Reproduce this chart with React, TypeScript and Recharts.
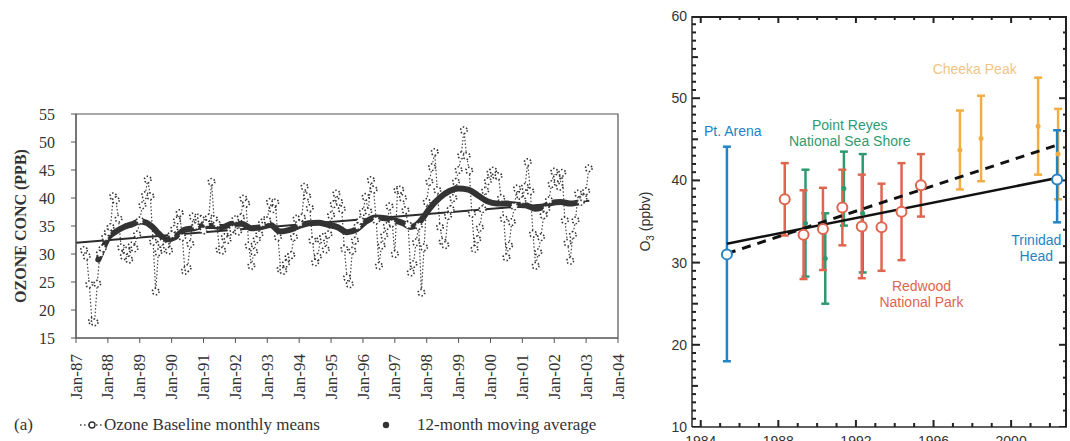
import React from 'react';
import { ComposedChart, Line, Scatter, ErrorBar, XAxis, YAxis, ReferenceArea, ReferenceDot } from 'recharts';

const SERIF = '"Liberation Serif", "DejaVu Serif", serif';
const SANS = '"Liberation Sans", Arial, sans-serif';
const AXIS_GRAY = '#555';
const INK = '#2b2b2b';
const FRAME = '#222222';

// ---- panel (a): monthly ozone baseline, Jan-87 .. Feb-03 (null = no data)
const FIRST_YEAR = 1987;
const m1987 = [null, null, null, 30.7, 29.6, 24.6, 18.0, 17.8, 24.7, 30.1, 31.0, 33.0];
const m1988 = [33.9, 34.8, 40.3, 39.6, 36.3, 31.2, 29.6, 30.6, 29.0, 31.5, 31.0, 33.5];
const m1989 = [36.0, 38.7, 40.5, 43.3, 40.3, 32.2, 23.3, 30.3, 32.0, 31.0, 31.5, 30.6];
const m1990 = [33.5, 34.5, 36.0, 37.3, 33.0, 27.0, 27.5, 31.8, 36.7, 35.0, 36.5, 36.2];
const m1991 = [34.2, 35.5, 36.5, 42.9, 36.2, 35.4, 30.8, 30.6, 33.0, 32.5, 34.0, 34.5];
const m1992 = [36.2, 34.0, 36.5, 39.9, 39.0, 31.5, 27.9, 30.4, 32.6, 33.5, 35.5, 36.0];
const m1993 = [36.0, 39.3, 38.0, 39.2, 33.0, 27.3, 27.0, 28.3, 29.4, 29.8, 33.0, 36.3];
const m1994 = [35.5, 36.5, 42.0, 40.3, 38.2, 32.4, 28.5, 29.5, 32.6, 33.0, 30.8, 33.5];
const m1995 = [36.9, 38.9, 40.8, 39.3, 38.0, 30.9, 25.8, 24.6, 30.6, 32.4, 35.0, 36.0];
const m1996 = [37.5, 40.2, 37.6, 43.2, 41.5, 36.0, 27.9, 31.5, 33.3, 35.0, 38.5, 35.5];
const m1997 = [30.0, 41.4, 41.5, 40.0, 37.8, 35.2, 26.7, 28.2, 32.1, 35.0, 23.1, 31.2];
const m1998 = [39.3, 42.9, 45.5, 48.2, 41.4, 34.8, 32.2, 31.6, 36.8, 38.0, 40.0, 42.9];
const m1999 = [45.0, 47.6, 52.1, 47.5, 44.9, 37.2, 30.9, 32.6, 34.7, 38.0, 41.3, 43.0];
const m2000 = [44.5, 44.9, 44.0, 43.9, 40.0, 36.3, 29.4, 31.5, 35.7, 38.5, 41.7, 40.5];
const m2001 = [39.6, 42.0, 46.4, 41.2, 33.6, 27.9, 30.3, 33.0, 36.9, 38.0, 39.6, 42.5];
const m2002 = [44.7, 43.6, 42.0, 44.5, 36.0, 32.0, 28.8, 33.4, 36.0, 40.8, 39.3, 40.0];
const m2003 = [41.2, 45.3];
const MONTHLY_BY_YEAR = [m1987, m1988, m1989, m1990, m1991, m1992, m1993, m1994, m1995,
  m1996, m1997, m1998, m1999, m2000, m2001, m2002, m2003];

// 12-month moving average
const MA_YEAR = [1987.7, 1987.85, 1988.0, 1988.25, 1988.5, 1988.75, 1989.0, 1989.2, 1989.4, 1989.6,
  1989.85, 1990.1, 1990.4, 1990.7, 1991.0, 1991.3, 1991.6, 1991.9, 1992.2, 1992.5, 1992.8, 1993.1,
  1993.4, 1993.7, 1994.0, 1994.3, 1994.6, 1994.9, 1995.2, 1995.5, 1995.8, 1996.1, 1996.4, 1996.7,
  1997.0, 1997.3, 1997.5, 1997.7, 1997.9, 1998.1, 1998.4, 1998.7, 1999.0, 1999.3, 1999.6, 1999.9,
  2000.2, 2000.5, 2000.8, 2001.1, 2001.4, 2001.6, 2001.9, 2002.2, 2002.5, 2002.85];
const MA_PPB = [29.0, 31.0, 32.8, 34.0, 34.8, 35.3, 35.8, 35.6, 34.8, 33.6,
  32.6, 33.0, 34.3, 34.6, 35.0, 35.0, 34.8, 35.4, 35.4, 34.6, 34.8, 35.2,
  34.0, 34.3, 35.0, 35.5, 35.6, 35.2, 34.8, 33.9, 34.4, 35.8, 36.5, 36.4,
  36.0, 35.4, 34.8, 35.3, 36.6, 38.2, 40.0, 41.2, 41.7, 41.5, 40.5, 39.4,
  39.0, 39.0, 38.8, 38.7, 38.1, 38.3, 39.1, 39.3, 39.0, 39.3];

const TREND_YEAR = [1987.0, 2003.1];
const TREND_PPB = [32.0, 39.5];

const LEFT_X_TICKS = [1987, 1988, 1989, 1990, 1991, 1992, 1993, 1994, 1995, 1996, 1997, 1998, 1999,
  2000, 2001, 2002, 2003, 2004];
const LEFT_Y_TICKS = [15, 20, 25, 30, 35, 40, 45, 50, 55];

// ---- right panel: site means with error bars
const ARENA_YEAR = [1985.35];
const ARENA_O3 = [31.0];
const ARENA_ERR = [[13.0, 13.1]];
const TRINIDAD_YEAR = [2002.37];
const TRINIDAD_O3 = [40.1];
const TRINIDAD_ERR = [[5.2, 6.0]];
const REDWOOD_YEAR = [1988.33, 1989.3, 1990.3, 1991.3, 1992.3, 1993.32, 1994.35, 1995.35];
const REDWOOD_O3 = [37.7, 33.4, 34.1, 36.7, 34.4, 34.3, 36.2, 39.4];
const REDWOOD_ERR = [4.4, 5.4, 5.0, 4.6, 6.3, 5.3, 5.9, 3.8];
const REYES_YEAR = [1989.4, 1990.42, 1991.38, 1992.35];
const REYES_O3 = [34.8, 30.5, 39.0, 36.0];
const REYES_ERR = [6.5, 5.5, 4.5, 7.2];
const CHEEKA_YEAR = [1997.36, 1998.45, 2001.39, 2002.42];
const CHEEKA_O3 = [43.7, 45.1, 46.6, 43.2];
const CHEEKA_ERR = [4.8, 5.2, 5.9, 5.5];
const FIT_YEAR = [1985.35, 2002.37];
const FIT_SOLID = [32.3, 40.3];
const FIT_DASHED = [31.1, 44.3];

const RIGHT_X_TICKS = [1984, 1985, 1986, 1987, 1988, 1989, 1990, 1991, 1992, 1993, 1994, 1995, 1996,
  1997, 1998, 1999, 2000, 2001, 2002];
const RIGHT_Y_TICKS = Array.from({ length: 51 }, (_, i) => 10 + i);
const RIGHT_Y_TICKS_R = RIGHT_Y_TICKS.filter((v) => v % 2 === 0);
const X_DOMAIN: [number, number] = [1983.55, 2002.88];
const Y_DOMAIN: [number, number] = [10, 60];

const BLUE = '#2284c6';
const RED = '#e0654f';
const GREEN = '#2f9a70';
const ORANGE = '#f2ae45';

const monthly = MONTHLY_BY_YEAR.flatMap((vals, i) =>
  vals.map((v, m) => ({ x: FIRST_YEAR + i + m / 12, v }))
).filter((d) => d.v !== null);
const movingAvg = MA_YEAR.map((x, i) => ({ x, v: MA_PPB[i] }));
const trend = TREND_YEAR.map((x, i) => ({ x, v: TREND_PPB[i] }));

const sites = (years: number[], vals: number[], errs: any[]) =>
  years.map((x, i) => ({ x, y: vals[i], err: errs[i] }));
const fit = (vals: number[]) => FIT_YEAR.map((x, i) => ({ x, y: vals[i] }));

// top/right frame edges and inward tick marks, placed through the chart's own scales
const topEdge = [{ x: X_DOMAIN[0], y: Y_DOMAIN[1] }, { x: X_DOMAIN[1], y: Y_DOMAIN[1] }];
const rightEdge = [{ x: X_DOMAIN[1], y: Y_DOMAIN[1] }, { x: X_DOMAIN[1], y: Y_DOMAIN[0] }];
const bottomTicks = RIGHT_X_TICKS.map((t) => ({ x: t, y: Y_DOMAIN[0], t }));
const topTicks = RIGHT_X_TICKS.map((t) => ({ x: t, y: Y_DOMAIN[1], t }));
const leftTicks = RIGHT_Y_TICKS.map((t) => ({ x: X_DOMAIN[0], y: t, t }));
const rightTicks = RIGHT_Y_TICKS_R.map((t) => ({ x: X_DOMAIN[1], y: t, t }));

const xTickLen = (t: number) => (t % 4 === 0 ? 7 : 4);
const yTickLen = (t: number) => (t % 10 === 0 ? 8 : t % 5 === 0 ? 6 : 4);
const tickMark = (dx: number, dy: number, lenOf: (t: number) => number) => (p: any) => {
  const t = p.payload && p.payload.t !== undefined ? p.payload.t : p.t;
  const len = lenOf(t);
  return (
    <path d={`M${p.cx},${p.cy}L${p.cx + dx * len},${p.cy + dy * len}`} stroke={FRAME} strokeWidth={2}
      fill="none" />
  );
};

const JanTick = ({ x, y, payload }: any) => (
  <text x={x} y={y} transform={`rotate(-90 ${x} ${y})`} textAnchor="end" dy="0.33em"
    fontFamily={SERIF} fontSize={17} fill="#333">
    {`Jan-${String(payload.value).slice(2)}`}
  </text>
);

const YearLabel = ({ x, y, payload }: any) =>
  payload.value % 4 === 0 ? (
    <text x={x} y={y} dy="0.71em" textAnchor="middle" fontFamily={SANS} fontSize={14} fill="#333">{payload.value}</text>
  ) : null;

const PpbvLabel = ({ x, y, payload }: any) =>
  payload.value % 10 === 0 ? (
    <text x={x} y={y} dy="0.35em" textAnchor="end" fontFamily={SANS} fontSize={14} fill="#333">{payload.value}</text>
  ) : null;

const note = (lines: string[], color: string) => (props: any) => {
  const vb = props.viewBox;
  const cx = vb.x + vb.width / 2;
  const cy = vb.y + vb.height / 2;
  return (
    <text x={cx} y={cy} textAnchor="middle" fill={color} fontSize={14} fontFamily={SANS}>
      {lines.map((l, i) => (
        <tspan key={i} x={cx} dy={i === 0 ? `${0.35 - (lines.length - 1) * 0.57}em` : '1.14em'}>{l}</tspan>
      ))}
    </text>
  );
};

const openCircle = (color: string, r: number) => (p: any) => (
  <circle cx={p.cx} cy={p.cy} r={r} fill="#fff" stroke={color} strokeWidth={2} />
);
const smallDot = (color: string) => (p: any) => (
  <circle cx={p.cx} cy={p.cy} r={2.5} fill={color} stroke="none" />
);

const OzoneBaseline = () => (
  <div style={{ position: 'absolute', left: 0, top: 0 }}>
    <ComposedChart width={640} height={441} margin={{ top: 114, right: 22, bottom: 23, left: 16 }}>
      <XAxis dataKey="x" type="number" domain={[1987, 2004]} ticks={LEFT_X_TICKS} interval={0}
        allowDataOverflow height={80} tickSize={5} tickMargin={11} stroke={AXIS_GRAY}
        tick={(p: any) => <JanTick {...p} />} />
      <YAxis type="number" domain={[15, 55]} ticks={LEFT_Y_TICKS} interval={0} allowDataOverflow
        width={60} tickSize={5} tickMargin={16} stroke={AXIS_GRAY}
        tick={{ fontFamily: SERIF, fontSize: 16, fill: '#333' }}
        label={{
          content: (p: any) => {
            const vb = p.viewBox;
            const x = vb.x + 4;
            const y = vb.y + vb.height / 2;
            return (
              <text x={x} y={y} transform={`rotate(-90 ${x} ${y})`} textAnchor="middle" dy="0.35em"
                fontFamily={SERIF} fontWeight="bold" fontSize={16} fill="#333">OZONE CONC (PPB)</text>
            );
          },
        }} />
      <ReferenceArea x1={1987} x2={2004} y1={15} y2={55} fill="none" stroke={AXIS_GRAY} strokeWidth={1.2}
        ifOverflow="visible" />
      <Line data={monthly} dataKey="v" stroke="#444" strokeWidth={1.2} strokeDasharray="1.5 2"
        dot={{ r: 3.3, fill: '#fff', stroke: '#333', strokeWidth: 1.6 }} activeDot={false}
        isAnimationActive={false} />
      <Line data={trend} dataKey="v" stroke={INK} strokeWidth={2} dot={false} activeDot={false}
        isAnimationActive={false} />
      <Line data={movingAvg} dataKey="v" type="monotone" stroke="#333" strokeWidth={6}
        strokeLinecap="round" dot={false} activeDot={false} isAnimationActive={false} />
    </ComposedChart>
    <div style={{ position: 'absolute', left: 0, top: 414, width: 640, height: 22, fontFamily: SERIF,
      fontSize: 17, color: '#333', lineHeight: '22px', whiteSpace: 'nowrap' }}>
      <span style={{ position: 'absolute', left: 14 }}>(a)</span>
      <svg style={{ position: 'absolute', left: 80, top: 5 }} width={24} height={12}>
        <line x1={0} x2={24} y1={6} y2={6} stroke="#444" strokeWidth={1.3} strokeDasharray="1.5 2.5" />
        <circle cx={12} cy={6} r={3} fill="#fff" stroke="#333" strokeWidth={1.4} />
      </svg>
      <span style={{ position: 'absolute', left: 104 }}>Ozone Baseline monthly means</span>
      <svg style={{ position: 'absolute', left: 380, top: 5 }} width={12} height={12}>
        <circle cx={6} cy={6} r={3.2} fill="#333" />
      </svg>
      <span style={{ position: 'absolute', left: 417 }}>12-month moving average</span>
    </div>
  </div>
);

const SiteTrends = () => (
  <div style={{ position: 'absolute', left: 600, top: 0, width: 470, height: 470 }}>
    <ComposedChart width={470} height={470} margin={{ top: 16, right: 3, bottom: 13, left: 32 }}>
      <XAxis dataKey="x" type="number" domain={X_DOMAIN} ticks={RIGHT_X_TICKS} interval={0}
        allowDataOverflow height={30} tickSize={0} tickMargin={9} stroke={INK} strokeWidth={1.5}
        tick={(p: any) => <YearLabel {...p} />} />
      <YAxis dataKey="y" type="number" domain={Y_DOMAIN} ticks={RIGHT_Y_TICKS} interval={0} allowDataOverflow
        width={60} tickSize={0} tickMargin={5} stroke={INK} strokeWidth={1.5}
        tick={(p: any) => <PpbvLabel {...p} />}
        label={{
          content: (p: any) => {
            const vb = p.viewBox;
            const x = vb.x + 13;
            const y = vb.y + vb.height / 2;
            return (
              <text x={x} y={y} transform={`rotate(-90 ${x} ${y})`} textAnchor="middle" dy="0.35em"
                fontFamily={SANS} fontSize={14} fill="#333">
                <tspan>O</tspan><tspan fontSize={10} dy={4}>3</tspan><tspan dy={-4}> (ppbv)</tspan>
              </text>
            );
          },
        }} />

      {/* frame edges (half of the stroke is clipped at the plot edge) and inward ticks */}
      <Line data={topEdge} dataKey="y" stroke={FRAME} strokeWidth={4} dot={false} activeDot={false}
        isAnimationActive={false} />
      <Line data={rightEdge} dataKey="y" stroke={FRAME} strokeWidth={4} dot={false} activeDot={false}
        isAnimationActive={false} />
      <Scatter data={bottomTicks} fill={FRAME} shape={tickMark(0, -1, xTickLen)} isAnimationActive={false} />
      <Scatter data={topTicks} fill={FRAME} shape={tickMark(0, 1, xTickLen)} isAnimationActive={false} />
      <Scatter data={leftTicks} fill={FRAME} shape={tickMark(1, 0, yTickLen)} isAnimationActive={false} />
      <Scatter data={rightTicks} fill={FRAME} shape={tickMark(-1, 0, (t) => (t % 10 === 0 ? 8 : 4))}
        isAnimationActive={false} />

      <Scatter data={sites(REYES_YEAR, REYES_O3, REYES_ERR)} fill={GREEN} shape={smallDot(GREEN)}
        isAnimationActive={false}>
        <ErrorBar dataKey="err" direction="y" width={4} stroke={GREEN} strokeWidth={2.5} isAnimationActive={false} />
      </Scatter>
      <Scatter data={sites(REDWOOD_YEAR, REDWOOD_O3, REDWOOD_ERR)} fill={RED} shape={openCircle(RED, 5)}
        isAnimationActive={false}>
        <ErrorBar dataKey="err" direction="y" width={4} stroke={RED} strokeWidth={2.5} isAnimationActive={false} />
      </Scatter>
      <Scatter data={sites(CHEEKA_YEAR, CHEEKA_O3, CHEEKA_ERR)} fill={ORANGE} shape={smallDot(ORANGE)}
        isAnimationActive={false}>
        <ErrorBar dataKey="err" direction="y" width={4} stroke={ORANGE} strokeWidth={2.5} isAnimationActive={false} />
      </Scatter>
      <Scatter data={sites(ARENA_YEAR, ARENA_O3, ARENA_ERR)} fill={BLUE} shape={openCircle(BLUE, 5)}
        isAnimationActive={false}>
        <ErrorBar dataKey="err" direction="y" width={4} stroke={BLUE} strokeWidth={2.5} isAnimationActive={false} />
      </Scatter>
      <Scatter data={sites(TRINIDAD_YEAR, TRINIDAD_O3, TRINIDAD_ERR)} fill={BLUE} shape={openCircle(BLUE, 5)}
        isAnimationActive={false}>
        <ErrorBar dataKey="err" direction="y" width={4} stroke={BLUE} strokeWidth={2.5} isAnimationActive={false} />
      </Scatter>

      <Line data={fit(FIT_SOLID)} dataKey="y" stroke="#111" strokeWidth={2.5} dot={false} activeDot={false}
        isAnimationActive={false} />
      <Line data={fit(FIT_DASHED)} dataKey="y" stroke="#111" strokeWidth={3} strokeDasharray="9 7" dot={false}
        activeDot={false} isAnimationActive={false} />

      <ReferenceDot x={1985.65} y={46.05} r={0} fill="none" stroke="none" label={note(['Pt. Arena'], BLUE)} />
      <ReferenceDot x={1991.68} y={45.8} r={0} fill="none" stroke="none"
        label={note(['Point Reyes', 'National Sea Shore'], GREEN)} />
      <ReferenceDot x={1998.12} y={53.5} r={0} fill="none" stroke="none" label={note(['Cheeka Peak'], '#f2c584')} />
      <ReferenceDot x={1995.38} y={26.2} r={0} fill="none" stroke="none"
        label={note(['Redwood', 'National Park'], RED)} />
      <ReferenceDot x={2001.3} y={31.8} r={0} fill="none" stroke="none" label={note(['Trinidad', 'Head'], BLUE)} />
    </ComposedChart>
  </div>
);

export default function App() {
  return (
    <div style={{ position: 'absolute', left: 0, top: 0, width: 1070, height: 441, overflow: 'hidden',
      background: '#fff' }}>
      <OzoneBaseline />
      <SiteTrends />
    </div>
  );
}
